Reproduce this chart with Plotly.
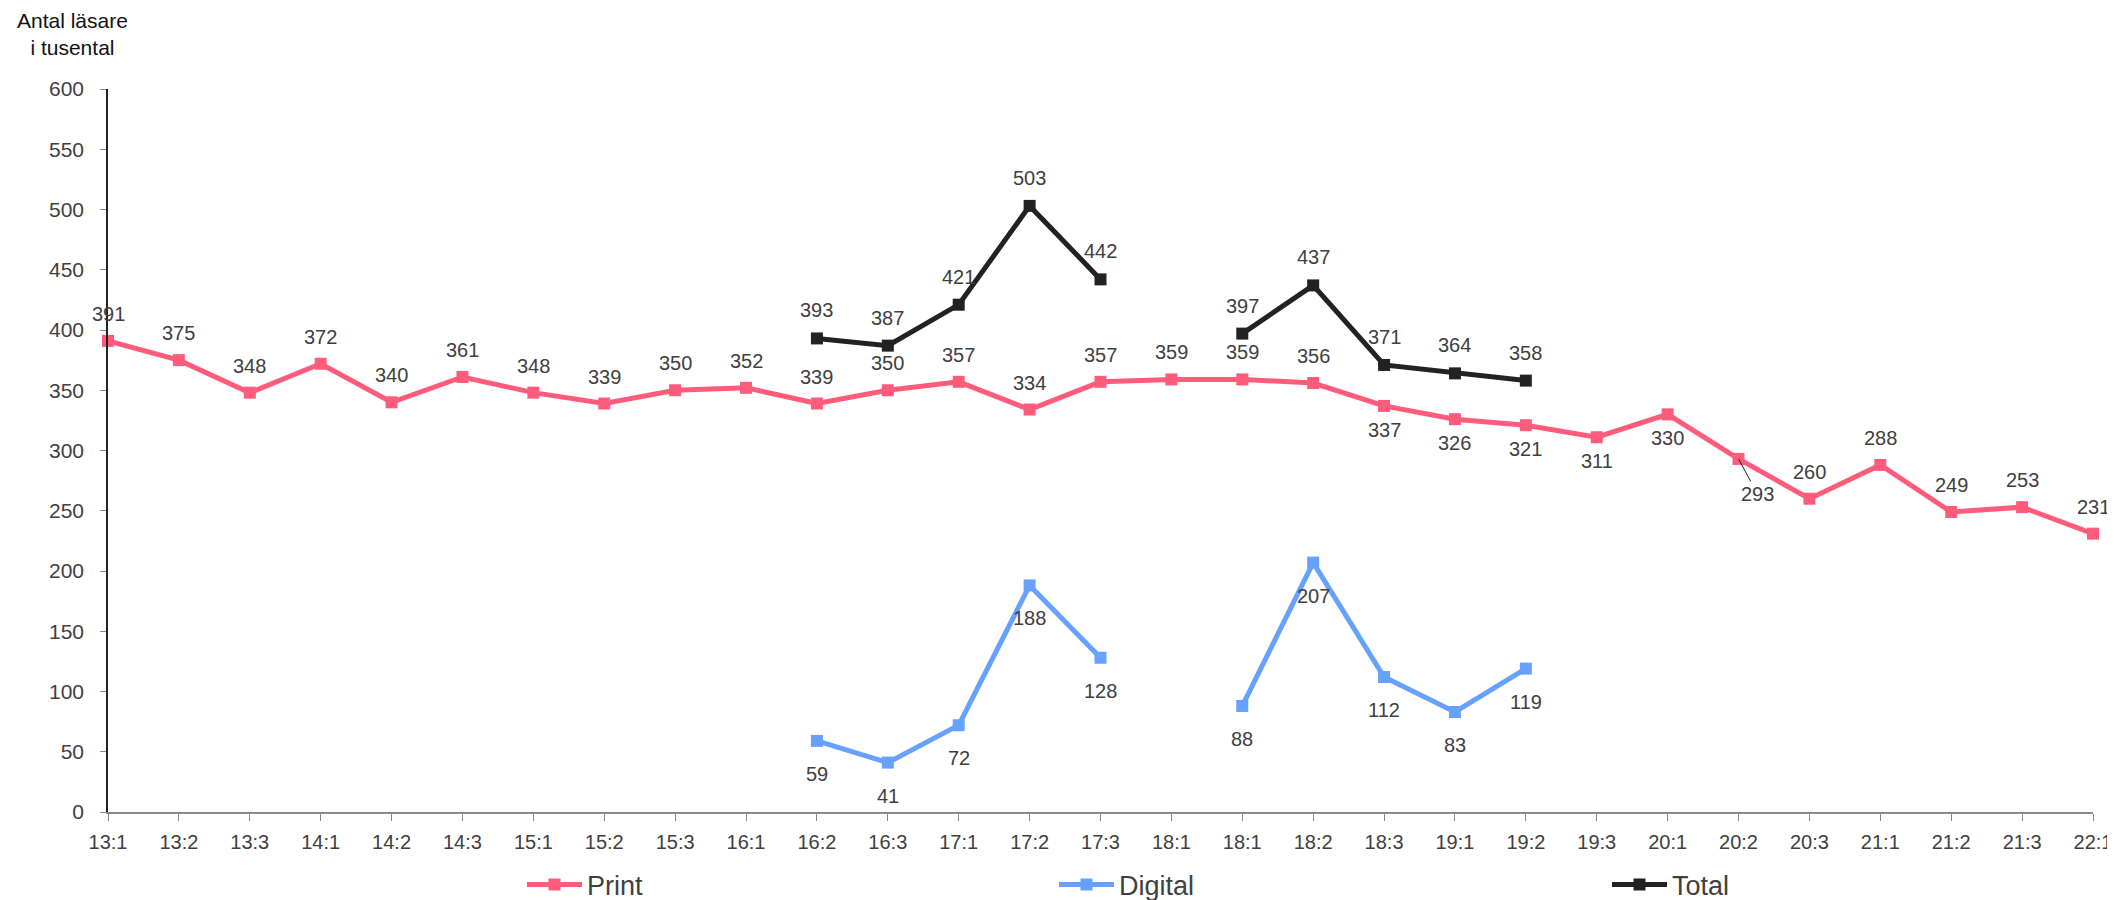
import plotly.graph_objects as go

# ---------------- data ----------------
periods = ["13:1", "13:2", "13:3", "14:1", "14:2", "14:3", "15:1", "15:2", "15:3",
           "16:1", "16:2", "16:3", "17:1", "17:2", "17:3", "18:1", "18:1", "18:2",
           "18:3", "19:1", "19:2", "19:3", "20:1", "20:2", "20:3", "21:1", "21:2",
           "21:3", "22:1"]

print_vals = [391, 375, 348, 372, 340, 361, 348, 339, 350, 352, 339, 350, 357, 334,
              357, 359, 359, 356, 337, 326, 321, 311, 330, 293, 260, 288, 249, 253, 231]

digital_vals = [None] * 10 + [59, 41, 72, 188, 128, None, 88, 207, 112, 83, 119] + [None] * 8

total_vals = [None] * 10 + [393, 387, 421, 503, 442, None, 397, 437, 371, 364, 358] + [None] * 8

y_ticks = [0, 50, 100, 150, 200, 250, 300, 350, 400, 450, 500, 550, 600]

# label placement (style, not data): "a" above, "b" below, "l" below with leader line
print_place = ["a"] * 18 + ["b", "b", "b", "b", "b", "l", "a", "a", "a", "a", "a"]

# ---------------- styling ----------------
OFF = 8  # default page body margin of the html page
W, H = 2115 - OFF, 900 - OFF
# plot area in window pixels: x 108..2093, y 89..812
ML, MT = 108 - OFF, 89 - OFF
MR = W - (2093 - OFF)
MB = H - (812 - OFF)
PINK = "#FF5C7C"
BLUE = "#66A1FF"
DARK = "#222222"
TXT = "#404040"
FONT = "Liberation Sans, Arial, sans-serif"

x = list(range(len(periods)))

fig = go.Figure()

def add_series(name, vals, color, legend):
    fig.add_trace(go.Scatter(
        x=x, y=vals, name=name, mode="lines+markers",
        line=dict(color=color, width=5),
        marker=dict(symbol="square", size=12, color=color),
        cliponaxis=False, connectgaps=False, legend=legend,
        hoverinfo="skip",
    ))

add_series("Print", print_vals, PINK, "legend")
add_series("Digital", digital_vals, BLUE, "legend2")
add_series("Total", total_vals, DARK, "legend3")

annotations = []
lab_font = dict(family=FONT, size=20, color=TXT)

for i, v in enumerate(print_vals):
    p = print_place[i]
    if p == "a":
        annotations.append(dict(x=i, y=v, xref="x", yref="y", text=str(v), showarrow=False,
                                yshift=27, font=lab_font))
    elif p == "b":
        annotations.append(dict(x=i, y=v, xref="x", yref="y", text=str(v), showarrow=False,
                                yshift=-24, font=lab_font))
    else:
        annotations.append(dict(x=i, y=v, xref="x", yref="y", text=str(v), showarrow=True,
                                arrowhead=0, arrowwidth=1, arrowcolor=DARK, standoff=0,
                                ax=19, ay=35, font=lab_font))

for i, v in enumerate(digital_vals):
    if v is not None:
        annotations.append(dict(x=i, y=v, xref="x", yref="y", text=str(v), showarrow=False,
                                yshift=-33, font=lab_font))

for i, v in enumerate(total_vals):
    if v is not None:
        annotations.append(dict(x=i, y=v, xref="x", yref="y", text=str(v), showarrow=False,
                                yshift=28, font=lab_font))

pw = W - ML - MR
ph = H - MT - MB

def lx(px):  # window pixel -> paper x
    return (px - OFF - ML) / pw

def ly(py):  # window pixel -> paper y
    return (H - MB - (py - OFF)) / ph

# axis title
annotations.append(dict(x=lx(72), y=ly(34), xref="paper", yref="paper",
                        text="Antal läsare<br>i tusental", showarrow=False, align="center",
                        xanchor="center", yanchor="middle",
                        font=dict(family=FONT, size=21, color="#111111")))

leg_common = dict(orientation="h", yanchor="middle", xanchor="left", y=ly(885),
                  font=dict(family=FONT, size=27, color=TXT), bgcolor="rgba(0,0,0,0)",
                  itemwidth=55)

fig.update_layout(
    width=W, height=H,
    margin=dict(l=ML, r=MR, t=MT, b=MB, autoexpand=False),
    paper_bgcolor="white", plot_bgcolor="white",
    font=dict(family=FONT, color=TXT),
    showlegend=True,
    legend=dict(leg_common, x=lx(522)),
    legend2=dict(leg_common, x=lx(1054)),
    legend3=dict(leg_common, x=lx(1607)),
    annotations=annotations,
    xaxis=dict(
        range=[0, len(periods) - 1], tickmode="array", tickvals=x, ticktext=periods,
        showgrid=False, zeroline=False, showline=True, linecolor="#888888", linewidth=2,
        ticks="outside", ticklen=7, tickcolor="#888888", tickwidth=1,
        tickfont=dict(family=FONT, size=20, color=TXT), ticklabelstandoff=4,
        automargin=False,
    ),
    yaxis=dict(
        range=[0, 600], tickmode="array", tickvals=y_ticks,
        showgrid=False, zeroline=False, showline=True, linecolor=DARK, linewidth=1.5,
        ticks="outside", ticklen=6, tickcolor="#888888", tickwidth=1,
        tickfont=dict(family=FONT, size=21, color=TXT), ticklabelstandoff=12,
        automargin=False,
    ),
)

fig.write_html("out.html")
